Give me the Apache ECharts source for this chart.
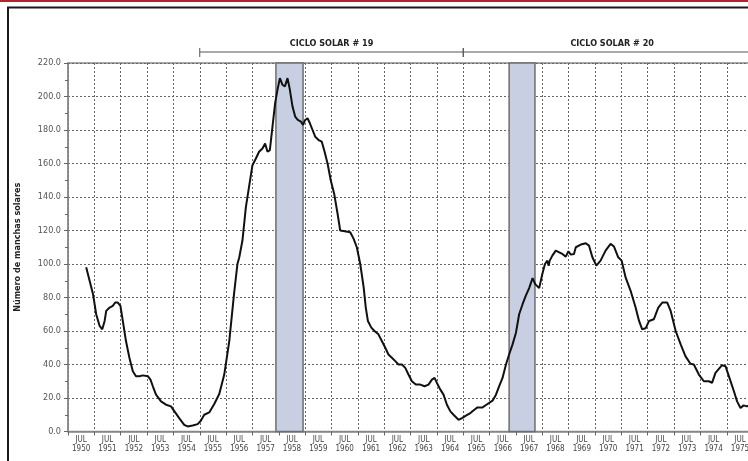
<!DOCTYPE html>
<html>
<head>
<meta charset="utf-8">
<script src="https://cdn.jsdelivr.net/npm/echarts@6/dist/echarts.min.js"></script>
<style>
html,body{margin:0;padding:0;background:#fff;}
#chart{width:748px;height:461px;}
</style>
</head>
<body>
<div id="chart"></div>
<script>
// ---- data ----
const years = [
1950.69,1950.82,1950.95,1951.07,1951.2,1951.3,1951.39,1951.45,1951.58,1951.7,1951.79,1951.89,1951.99,
1952.08,1952.2,1952.33,1952.46,1952.58,1952.71,1952.84,1953.03,1953.13,1953.22,1953.34,1953.53,1953.72,1953.91,
1954.04,1954.22,1954.41,1954.54,1954.73,1954.92,1955.04,1955.17,1955.36,1955.55,1955.74,1955.93,
1956.12,1956.3,1956.43,1956.5,1956.62,1956.75,1956.87,1957.0,1957.13,1957.25,1957.38,1957.48,1957.57,1957.66,1957.76,1957.86,1957.95,
1958.04,1958.14,1958.23,1958.33,1958.42,1958.52,1958.62,1958.72,1958.84,1958.92,
1959.0,1959.09,1959.18,1959.28,1959.38,1959.51,1959.63,1959.72,1959.85,1959.97,
1960.1,1960.23,1960.33,1960.5,1960.71,1960.84,1960.96,1961.09,1961.22,1961.3,1961.38,1961.51,1961.63,1961.78,1961.91,
1962.04,1962.16,1962.29,1962.42,1962.54,1962.67,1962.8,1962.92,1963.05,1963.2,1963.37,1963.53,1963.68,1963.81,1963.91,
1964.0,1964.13,1964.25,1964.38,1964.51,1964.63,1964.82,1964.95,1965.1,1965.27,1965.42,1965.54,1965.73,1965.92,
1966.11,1966.24,1966.36,1966.49,1966.62,1966.74,1966.87,1967.0,1967.12,1967.25,1967.37,1967.5,1967.63,1967.73,1967.88,
1968.0,1968.1,1968.19,1968.24,1968.28,1968.38,1968.51,1968.64,1968.76,1968.89,1968.99,1969.08,1969.2,1969.27,1969.46,1969.65,1969.77,1969.9,
1970.05,1970.21,1970.4,1970.59,1970.72,1970.88,1971.01,1971.16,1971.35,1971.54,1971.67,1971.79,1971.92,
1972.05,1972.23,1972.4,1972.55,1972.74,1972.87,1973.06,1973.25,1973.43,1973.62,1973.75,1973.94,
1974.13,1974.32,1974.44,1974.57,1974.82,1974.95,1975.1,1975.27,1975.39,1975.52,1975.64,1975.76,1975.9
];
const sunspots = [
98,90,82,70,63,61,66,72,74,75,77,77,75,
66,54,44,36,33,33,33.5,33,31,27,22,18,16,15,
12,8,4,3,3.6,4.4,6.4,10,11.4,16.4,22.4,34,
54,82,100,104,114,134,146,159,163,167,169,172,167,168,182,196,204,
211,207,206,211,204,194,188,186,185,183,
186,187,184,180,176,174,173,168,160,150,
142,130,120,119.5,119,115,110,100,86,74,66,62,60,58,54,
50,46,44,42,40,40,38,34,30,28,28,27,28,31,32,
29,25,22,16,12,10,7,8,9.5,11,13,14.4,14.4,16.4,
18.4,22,27,32,40,46,52,59,70,76,81,85.6,91.6,88,85.6,
94,100,102,99,102,105,108,107,106,104.4,107.6,105.6,106,110,111.6,112.4,111,104,
99,102,108,112,110.4,104,102,92,84,74,66,61,61.6,
66,67,74,77,77,72,60,52,45,40.4,40,34,
30,30,29,35,39.6,39,32,24,18,14,15.6,15,16
];
const bandStart = [1957.89, 1966.74];
const bandEnd   = [1958.92, 1967.72];
const cycleLabels = ['CICLO SOLAR # 19', 'CICLO SOLAR # 20'];
const cycleStart = [1955, 1965];
const cycleEnd   = [1965, 1976.3];
const labelYears = [];
for (let y = 1950; y <= 1976; y++) labelYears.push(y + 0.5);
const tickYears = [];
for (let y = 1950; y <= 1977; y++) tickYears.push(y);
const yMin = 0, yMax = 220, yStep = 20;
const xMin = 1950, xMax = 1977;

const narrow = '"Liberation Sans Narrow","DejaVu Sans Condensed","Arial Narrow",sans-serif';

const chart = echarts.init(document.getElementById('chart'));
const option = {
  animation: false,
  backgroundColor: '#fff',
  grid: { left: 68, top: 63, width: 711.5, height: 368.5, outerBoundsMode: 'none', containLabel: false, show: true, borderColor: '#8a8a8a', borderWidth: 1.5, backgroundColor: 'transparent' },
  xAxis: {
    type: 'value', min: xMin, max: xMax, interval: 1,
    axisLine: { show: true, onZero: false, lineStyle: { color: '#8a8a8a', width: 1.5 } },
    axisTick: { show: true, length: 4, customValues: tickYears, lineStyle: { color: '#666' } },
    axisLabel: {
      customValues: labelYears,
      formatter: v => 'JUL\n' + Math.floor(v),
      fontFamily: narrow, fontSize: 8, color: '#444', lineHeight: 9, margin: 4
    },
    splitLine: { show: true, lineStyle: { color: '#666', type: [2, 2], width: 1 } }
  },
  yAxis: {
    type: 'value', min: yMin, max: yMax, interval: yStep,
    name: 'Número de manchas solares', nameLocation: 'middle', nameGap: 46, nameRotate: 90,
    nameTextStyle: { fontFamily: narrow, fontSize: 9, fontWeight: 'bold', color: '#222' },
    axisLine: { show: true, lineStyle: { color: '#8a8a8a', width: 1.5 } },
    axisTick: { show: true, length: 4, lineStyle: { color: '#666' } },
    minorTick: { show: true, splitNumber: 2, length: 3, lineStyle: { color: '#666' } },
    axisLabel: { formatter: v => v.toFixed(1), fontFamily: narrow, fontSize: 9, color: '#555', margin: 7 },
    splitLine: { show: true, lineStyle: { color: '#666', type: [2, 2], width: 1 } }
  },
  series: [{
    type: 'line',
    data: years.map((y, i) => [y, sunspots[i]]),
    showSymbol: false, symbol: 'none',
    lineStyle: { color: '#111', width: 2 },
    z: 5,
    markArea: {
      silent: true,
      itemStyle: { color: '#c8cfe2', borderColor: '#6e6e6e', borderWidth: 1.5 },
      data: bandStart.map((s, i) => [{ xAxis: s }, { xAxis: bandEnd[i] }])
    }
  }]
};
chart.setOption(option);

// annotation brackets positioned through the axis scale
const gtop = 63;
const by = gtop - 11;
const gfx = [
  { type: 'rect', shape: { x: 0, y: 0, width: 748, height: 2 }, style: { fill: '#b0262b' }, silent: true },
  { type: 'rect', shape: { x: 8, y: 7.5, width: 760, height: 470 }, style: { fill: 'none', stroke: '#1a1a1a', lineWidth: 2 }, silent: true }
];
cycleLabels.forEach((lab, i) => {
  const x1 = chart.convertToPixel({ xAxisIndex: 0 }, cycleStart[i]);
  const x2 = chart.convertToPixel({ xAxisIndex: 0 }, cycleEnd[i]);
  gfx.push({ type: 'line', shape: { x1: x1, y1: by, x2: x2, y2: by }, style: { stroke: '#555', lineWidth: 1 }, silent: true });
  gfx.push({ type: 'line', shape: { x1: x1, y1: by - 4, x2: x1, y2: by + 5 }, style: { stroke: '#555', lineWidth: 1 }, silent: true });
  gfx.push({ type: 'line', shape: { x1: x2, y1: by - 4, x2: x2, y2: by + 5 }, style: { stroke: '#555', lineWidth: 1 }, silent: true });
  gfx.push({ type: 'text', x: (x1 + x2) / 2, y: by - 8, style: { text: lab, fill: '#222', font: 'bold 9px ' + narrow, textAlign: 'center', textVerticalAlign: 'middle' }, silent: true });
});
chart.setOption({ graphic: gfx });
</script>
</body>
</html>
